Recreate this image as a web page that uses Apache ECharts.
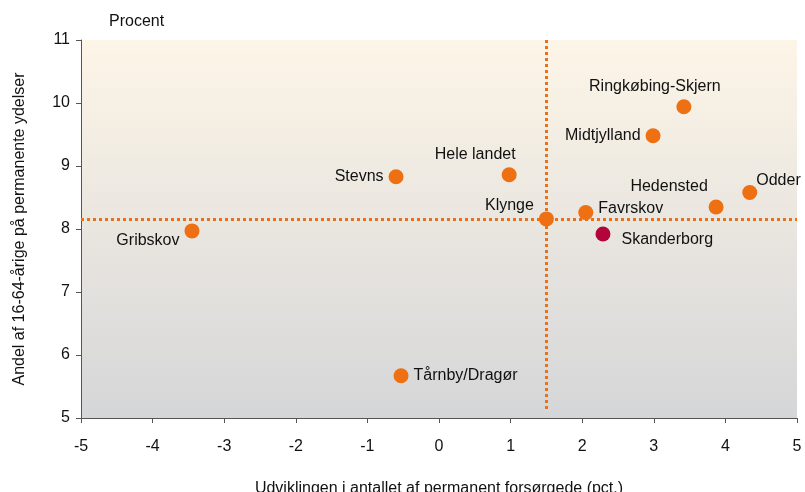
<!DOCTYPE html>
<html>
<head>
<meta charset="utf-8">
<script src="https://cdn.jsdelivr.net/npm/echarts@6/dist/echarts.min.js"></script>
<style>
  html, body { margin: 0; padding: 0; background: #fff; }
  #board { width: 805px; height: 492px; }
</style>
</head>
<body>
<div id="board"></div>
<script>
// kommuner / områder
var names = ["Gribskov", "Stevns", "Hele landet", "Klynge", "Favrskov", "Skanderborg",
  "Midtjylland", "Ringkøbing-Skjern", "Hedensted", "Odder", "Tårnby/Dragør"];
// udvikling i antal permanent forsørgede (pct.)
var xValues = [-3.45, -0.60, 0.98, 1.50, 2.05, 2.29, 2.99, 3.42, 3.87, 4.34, -0.53];
// andel af 16-64-årige på permanente ydelser
var yValues = [7.97, 8.83, 8.86, 8.16, 8.26, 7.92, 9.48, 9.94, 8.35, 8.58, 5.67];
var highlight = "Skanderborg";
var refX = 1.5;
var refY = 8.16;

// label placering pr. punkt
var labelPos = {
  "Gribskov": { position: "left", offset: [0, 10] },
  "Stevns": { position: "left", offset: [0, 0] },
  "Hele landet": { position: "top", offset: [-34, 0] },
  "Klynge": { position: "left", offset: [0, -13] },
  "Favrskov": { position: "right", offset: [0, -4] },
  "Skanderborg": { position: "right", offset: [6, 6] },
  "Midtjylland": { position: "left", offset: [0, 0] },
  "Ringkøbing-Skjern": { position: "top", offset: [-29, 0] },
  "Hedensted": { position: "top", offset: [-47, 0] },
  "Odder": { position: "right", offset: [-6, -12] },
  "Tårnby/Dragør": { position: "right", offset: [0, 0] }
};

var points = names.map(function (n, i) {
  return {
    name: n,
    value: [xValues[i], yValues[i]],
    itemStyle: { color: n === highlight ? "#B2053B" : "#EE7012", opacity: 1 },
    label: labelPos[n]
  };
});

var font = "Liberation Sans, Arial, sans-serif";
var myChart = echarts.init(document.getElementById("board"));
myChart.setOption({
  animation: false,
  textStyle: { fontFamily: font },
  title: {
    text: "Procent",
    left: 104,
    top: 9,
    textStyle: { fontSize: 16, fontWeight: "normal", color: "#111", fontFamily: font }
  },
  grid: {
    left: 81, right: 8, top: 40, bottom: 74,
    outerBoundsMode: "none",
    show: true,
    borderWidth: 0,
    backgroundColor: new echarts.graphic.LinearGradient(0, 0, 0, 1, [
      { offset: 0, color: "#FDF5E7" },
      { offset: 1, color: "#D5D6D8" }
    ])
  },
  xAxis: {
    type: "value",
    min: -5, max: 5, interval: 1,
    name: "Udviklingen i antallet af permanent forsørgede (pct.)",
    nameLocation: "middle",
    nameGap: 63,
    nameTextStyle: { fontSize: 16, color: "#111" },
    axisLine: { onZero: false, lineStyle: { color: "#555", width: 1 } },
    axisTick: { show: true, length: 5, lineStyle: { color: "#555" } },
    axisLabel: { fontSize: 16, color: "#111", margin: 21 },
    splitLine: { show: false }
  },
  yAxis: {
    type: "value",
    min: 5, max: 11, interval: 1,
    name: "Andel af 16-64-årige på permanente ydelser",
    nameLocation: "middle",
    nameGap: 53,
    nameTextStyle: { fontSize: 16, color: "#111" },
    axisLine: { show: true, onZero: false, lineStyle: { color: "#555", width: 1 } },
    axisTick: { show: true, length: 5, lineStyle: { color: "#555" } },
    axisLabel: { fontSize: 16, color: "#111", margin: 11 },
    splitLine: { show: false }
  },
  series: [
    {
      type: "scatter",
      symbolSize: 15,
      data: points,
      z: 5,
      label: {
        show: true,
        formatter: "{b}",
        fontSize: 16,
        color: "#111",
        distance: 5
      },
      markLine: {
        silent: true,
        symbol: "none",
        label: { show: false },
        lineStyle: { color: "#EE7012", type: [3, 3], width: 3, opacity: 1 },
        data: [
          [{ coord: [refX, 11] }, { coord: [refX, 5.1] }],
          { yAxis: refY }
        ]
      }
    }
  ]
});
</script>
</body>
</html>
